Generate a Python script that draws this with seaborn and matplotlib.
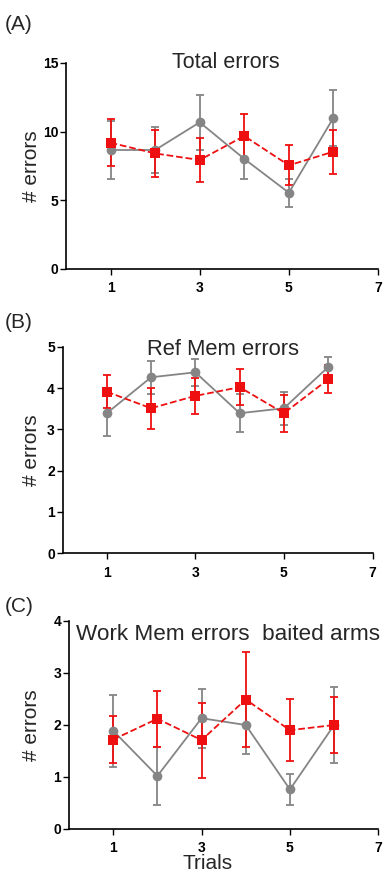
import matplotlib
matplotlib.use("Agg")
import matplotlib.pyplot as plt
import seaborn as sns
import pandas as pd

trials = [1, 2, 3, 4, 5, 6]

# Panel A: Total errors
a_gray = [8.65, 8.65, 10.67, 8.0, 5.53, 11.0]
a_gray_err = [2.1, 1.65, 2.03, 1.5, 1.02, 2.03]
a_red = [9.18, 8.4, 7.92, 9.67, 7.53, 8.53]
a_red_err = [1.7, 1.7, 1.6, 1.6, 1.47, 1.6]

# Panel B: Ref Mem errors
b_gray = [3.39, 4.26, 4.38, 3.39, 3.51, 4.51]
b_gray_err = [0.54, 0.40, 0.32, 0.46, 0.40, 0.25]
b_red = [3.91, 3.51, 3.81, 4.02, 3.39, 4.21]
b_red_err = [0.40, 0.49, 0.44, 0.44, 0.45, 0.34]

# Panel C: Work Mem errors baited arms
c_gray = [1.89, 1.02, 2.13, 2.0, 0.76, 2.0]
c_gray_err = [0.69, 0.56, 0.57, 0.56, 0.30, 0.73]
c_red = [1.72, 2.12, 1.71, 2.49, 1.9, 2.0]
c_red_err = [0.46, 0.54, 0.72, 0.92, 0.60, 0.54]

titles = ["Total errors", "Ref Mem errors", "Work Mem errors  baited arms"]
panel_labels = ["(A)", "(B)", "(C)"]
yticks_list = [[0, 5, 10, 15], [0, 1, 2, 3, 4, 5], [0, 1, 2, 3, 4]]
ylims = [15, 5, 4]
xticks = [1, 3, 5, 7]

sns.set_theme(style="ticks")
plt.rcParams['font.family'] = ['Liberation Sans', 'DejaVu Sans']

W, H = 383, 881
fig = plt.figure(figsize=(W / 100, H / 100), dpi=100)

# axes rectangles in pixel terms: left, right, top, bottom
rects = [(66, 378, 63, 268.5), (62.5, 372.5, 346.7, 553.3), (69, 378.3, 621, 829)]
title_pos = [(0.513, 0.976), (0.518, 0.960), (0.515, 0.909)]
title_sizes = [15.5, 15.8, 16.2]
label_pos = [(5, 30), (5, 328), (5, 612)]

GRAY = "#858585"
RED = "#ee1010"

data = [
    (a_gray, a_gray_err, a_red, a_red_err),
    (b_gray, b_gray_err, b_red, b_red_err),
    (c_gray, c_gray_err, c_red, c_red_err),
]

for i, (l, r, t, b) in enumerate(rects):
    ax = fig.add_axes([l / W, (H - b) / H, (r - l) / W, (b - t) / H])
    g, ge, rd, re = data[i]
    df = pd.DataFrame({"trial": trials + trials,
                       "val": g + rd,
                       "grp": ["gray"] * 6 + ["red"] * 6})
    # error bars
    ax.errorbar(trials, g, yerr=ge, fmt="none", ecolor=GRAY, elinewidth=1.3,
                capsize=3, capthick=1.3, zorder=2)
    ax.errorbar(trials, rd, yerr=re, fmt="none", ecolor=RED, elinewidth=1.3,
                capsize=3, capthick=1.3, zorder=3)
    sns.lineplot(data=df[df.grp == "gray"], x="trial", y="val", ax=ax,
                 color=GRAY, marker="o", markersize=7, markeredgewidth=0,
                 linewidth=1.3, zorder=4, legend=False)
    sns.lineplot(data=df[df.grp == "red"], x="trial", y="val", ax=ax,
                 color=RED, marker="s", markersize=6.5, markeredgewidth=0,
                 linewidth=1.3, linestyle="--", zorder=5, legend=False)
    ax.set_xlim(0, 7)
    ax.set_ylim(0, ylims[i])
    ax.set_xticks(xticks)
    ax.set_yticks(yticks_list[i])
    for lab in ax.get_xticklabels() + ax.get_yticklabels():
        lab.set_fontweight("bold")
        lab.set_fontsize(10)
    ax.tick_params(axis="x", length=4, width=1.0, pad=5, colors="black")
    ax.tick_params(axis="y", length=4, width=1.0, pad=1.5, colors="black")
    for s in ["top", "right"]:
        ax.spines[s].set_visible(False)
    for s in ["left", "bottom"]:
        ax.spines[s].set_linewidth(1.2)
        ax.spines[s].set_color("black")
    ax.set_ylabel("# errors", fontsize=15)
    ax.yaxis.set_label_coords((41 - l) / (r - l), 0.5)
    if i == 2:
        ax.set_xlabel("Trials", fontsize=15)
        ax.xaxis.set_label_coords(0.447, -0.12)
    else:
        ax.set_xlabel("")
    ax.text(title_pos[i][0], title_pos[i][1], titles[i], transform=ax.transAxes,
            ha="center", va="baseline", fontsize=title_sizes[i])
    fig.text(label_pos[i][0] / W, (H - label_pos[i][1]) / H, panel_labels[i],
             ha="left", va="baseline", fontsize=15)

fig.savefig("out.png", dpi=100)
